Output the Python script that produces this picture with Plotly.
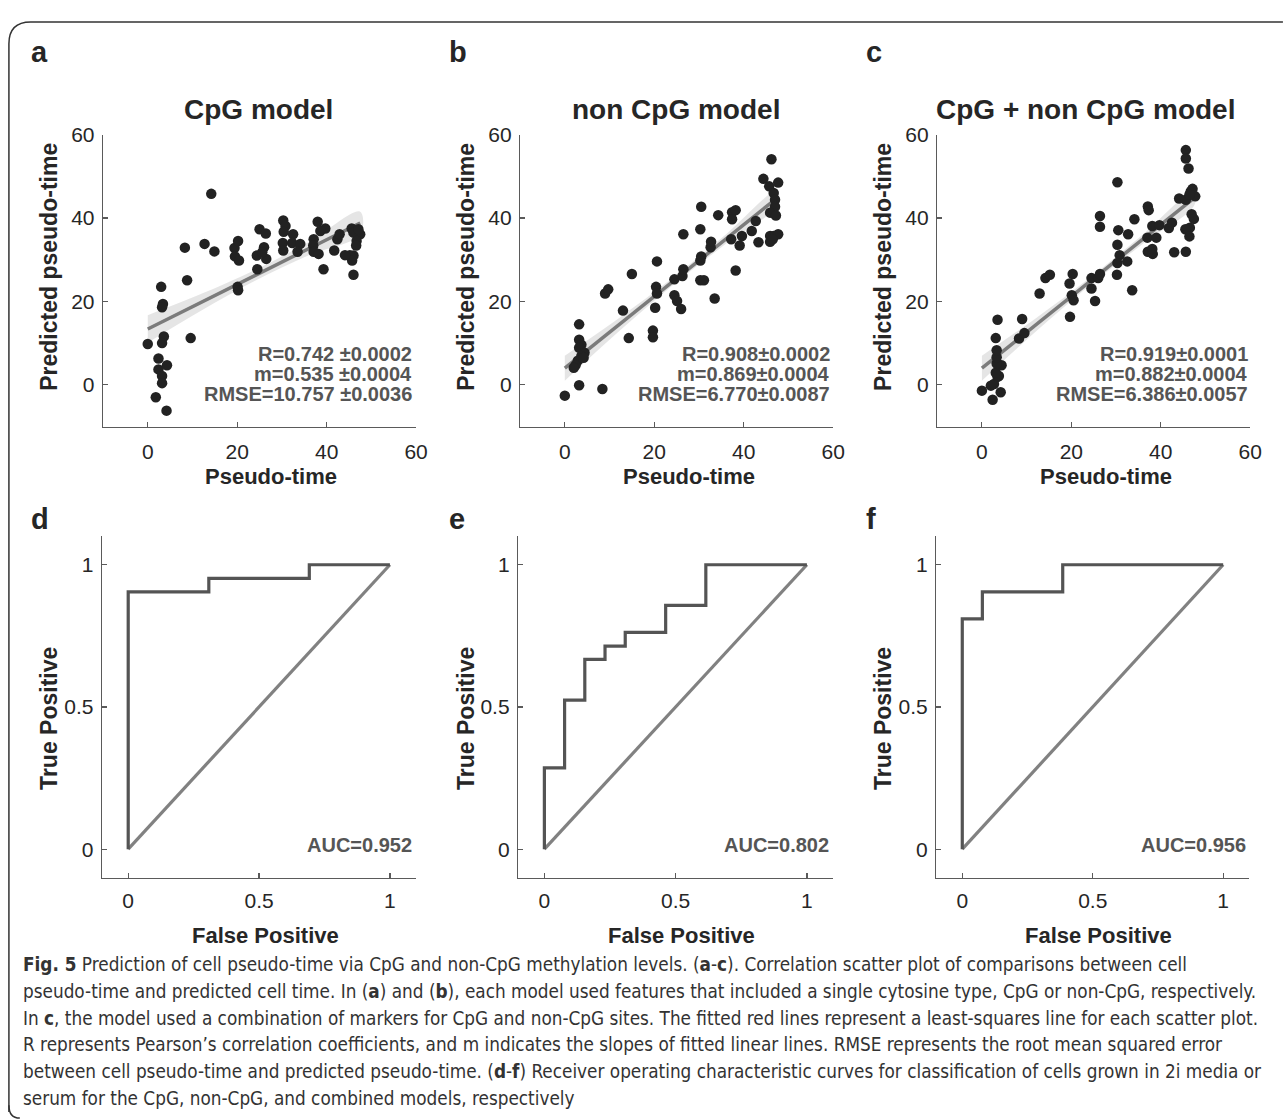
import plotly.graph_objects as go

W, H = 1287, 1119

# ---------------- data ----------------
a_x = [0, 14.2, 8.3, 8.8, 9.6, 12.7, 14.9, 3.0, 3.4, 3.2, 3.6, 3.2, 2.4, 4.3, 2.4, 3.2, 3.2, 1.8, 4.2,
       20.1, 20.2, 19.4, 20.2, 19.5, 20.4, 24.5, 24.4, 25.0, 26.4, 26.0, 26.5, 25.6, 30.3, 30.8, 30.4,
       30.2, 30.3, 32.5, 32.3, 34.1, 33.5, 38.0, 39.7, 38.6, 37.1, 37.0, 37.1, 38.2, 39.3, 41.7, 42.4,
       42.9, 45.6, 46.0, 47.5, 46.7, 46.6, 46.0, 45.2, 45.7, 46.0, 44.1, 47.1]
a_y = [9.8, 45.8, 32.9, 25.1, 11.2, 33.8, 32.0, 23.5, 19.4, 18.6, 11.6, 10.0, 6.3, 4.7, 3.7, 2.1, 0.4, -3.0, -6.2,
       23.5, 22.7, 32.8, 34.5, 30.8, 29.8, 27.7, 31.0, 37.3, 36.3, 33.0, 30.2, 31.8, 39.4, 38.1, 36.7,
       34.0, 32.2, 36.1, 34.0, 33.8, 31.9, 39.1, 37.5, 36.9, 34.9, 33.4, 31.9, 31.4, 27.7, 32.2, 34.9,
       36.1, 37.5, 36.5, 36.1, 34.5, 33.4, 31.0, 31.1, 29.8, 26.4, 31.1, 37.3]

b_x = [0, 3.2, 8.4, 3.2, 3.2, 3.7, 3.2, 4.4, 3.7, 2.9, 2.4, 2.0, 4.2, 9.0, 9.7, 13.0, 14.3, 15.0,
       19.7, 19.7, 20.2, 20.4, 20.6, 20.6, 24.5, 25.1, 26.0, 24.5, 26.3, 26.5, 26.5, 30.3, 31.1, 30.3,
       30.5, 30.3, 30.5, 33.5, 32.6, 32.7, 34.3, 37.4, 38.2, 37.4, 37.2, 39.1, 38.2, 39.6, 41.8, 42.7,
       43.3, 44.4, 46.2, 45.7, 47.7, 46.7, 47.0, 47.0, 45.9, 47.2, 45.9, 46.7, 47.7, 45.9, 46.5]
b_y = [-2.6, -0.1, -1.0, 14.5, 10.8, 9.6, 8.9, 7.7, 6.9, 5.8, 4.7, 4.1, 6.5, 21.9, 22.9, 17.8, 11.2, 26.6,
       13.0, 11.4, 18.5, 23.5, 21.9, 29.6, 21.5, 20.1, 18.2, 25.3, 26.1, 27.7, 36.1, 25.1, 25.1, 29.8,
       30.8, 37.3, 42.7, 20.7, 33.0, 34.3, 40.7, 41.4, 41.9, 39.7, 34.9, 33.4, 27.4, 35.7, 36.9, 39.3,
       34.2, 49.4, 54.1, 47.6, 48.5, 46.0, 44.4, 42.7, 41.3, 40.6, 35.7, 35.7, 36.1, 34.3, 34.9]

c_x = [0, 2.4, 4.2, 2.0, 2.7, 3.5, 3.8, 3.1, 4.4, 3.3, 3.3, 3.3, 3.1, 3.5, 8.3, 9.5, 9.0, 12.9, 14.2,
       15.2, 19.6, 20.3, 20.1, 20.5, 19.7, 24.5, 24.5, 25.3, 26.0, 26.4, 26.4, 26.4, 30.3, 30.5, 30.3,
       30.8, 30.3, 30.2, 32.7, 32.5, 33.6, 34.1, 37.1, 37.3, 37.0, 38.1, 39.0, 39.7, 37.1, 38.2, 38.1,
       41.8, 42.5, 43.0, 44.1, 45.6, 45.6, 45.6, 46.2, 46.7, 47.1, 47.7, 46.4, 46.9, 47.4, 46.5, 45.5,
       46.4, 45.6]
c_y = [-1.4, -3.6, -1.8, -0.2, 0.2, 1.9, 2.1, 2.9, 4.7, 5.1, 6.6, 8.3, 11.2, 15.6, 11.1, 12.4, 15.8, 21.9, 25.6,
       26.4, 24.3, 26.6, 21.5, 20.3, 16.3, 23.1, 25.6, 20.1, 25.6, 26.6, 40.5, 37.9, 48.6, 37.1, 33.6,
       31.1, 29.2, 26.4, 36.1, 29.6, 22.7, 39.7, 42.8, 41.9, 35.3, 38.1, 35.3, 38.3, 31.9, 31.4, 32.6,
       37.6, 38.9, 31.8, 44.7, 44.4, 56.3, 54.3, 51.9, 46.4, 47.0, 45.2, 45.6, 40.9, 39.8, 37.7, 37.3,
       35.6, 31.9]

# fitted lines (intercept, slope) and confidence band half-widths
fit_intercepts = [13.4, 4.0, 4.0]
fit_slopes = [0.535, 0.86, 0.86]
fit_x_range = [0, 47.5]
band_x = [0, 12, 24, 36, 47.5]
band_half = [[3.3, 2.0, 1.3, 1.6, 2.7],
             [3.0, 1.6, 0.9, 1.1, 1.8],
             [3.0, 1.6, 0.9, 1.1, 1.8]]

stats_text = [["R=0.742 ±0.0002", "m=0.535 ±0.0004", "RMSE=10.757 ±0.0036"],
              ["R=0.908±0.0002", "m=0.869±0.0004", "RMSE=6.770±0.0087"],
              ["R=0.919±0.0001", "m=0.882±0.0004", "RMSE=6.386±0.0057"]]
scatter_titles = ["CpG model", "non CpG model", "CpG + non CpG model"]

# ROC curves
roc_d_fpr = [0, 0, 0.308, 0.308, 0.692, 0.692, 1]
roc_d_tpr = [0, 0.905, 0.905, 0.952, 0.952, 1, 1]
roc_e_fpr = [0, 0, 0.077, 0.077, 0.154, 0.154, 0.231, 0.231, 0.308, 0.308, 0.462, 0.462, 0.615, 0.615, 1]
roc_e_tpr = [0, 0.286, 0.286, 0.524, 0.524, 0.667, 0.667, 0.714, 0.714, 0.762, 0.762, 0.857, 0.857, 1, 1]
roc_f_fpr = [0, 0, 0.077, 0.077, 0.385, 0.385, 1]
roc_f_tpr = [0, 0.810, 0.810, 0.905, 0.905, 1, 1]
auc_text = ["AUC=0.952", "AUC=0.802", "AUC=0.956"]

scatter_ticks = [0, 20, 40, 60]
roc_ticks = [0, 0.5, 1]
roc_tick_labels = ["0", "0.5", "1"]

caption_lines = [
    "<b>Fig. 5</b> Prediction of cell pseudo-time via CpG and non-CpG methylation levels. (<b>a</b>-<b>c</b>). Correlation scatter plot of comparisons between cell",
    "pseudo-time and predicted cell time. In (<b>a</b>) and (<b>b</b>), each model used features that included a single cytosine type, CpG or non-CpG, respectively.",
    "In <b>c</b>, the model used a combination of markers for CpG and non-CpG sites. The fitted red lines represent a least-squares line for each scatter plot.",
    "R represents Pearson’s correlation coefficients, and m indicates the slopes of fitted linear lines. RMSE represents the root mean squared error",
    "between cell pseudo-time and predicted pseudo-time. (<b>d</b>-<b>f</b>) Receiver operating characteristic curves for classification of cells grown in 2i media or",
    "serum for the CpG, non-CpG, and combined models, respectively",
]

# ---------------- layout helpers ----------------
def px(x):
    return x / W

def py(y):
    return 1 - y / H

FONT = "Liberation Sans, Arial, Helvetica, sans-serif"
AXC = "#5a5a5a"
TXT = "#262626"

scatter_dom_x = [(104, 420), (525, 841), (946, 1262)]
scatter_dom_y = (124, 419)
roc_dom_x = [(103, 420), (523, 841), (945, 1261)]
roc_dom_y = (530, 875)

fig = go.Figure()
layout = dict(width=W, height=H, margin=dict(l=0, r=0, t=0, b=0),
              paper_bgcolor="white", plot_bgcolor="white", showlegend=False,
              font=dict(family=FONT, color=TXT))

def axis_common():
    return dict(showline=True, linecolor=AXC, linewidth=1.3, ticks="inside", ticklen=5,
                tickcolor=AXC, tickwidth=1.2, showgrid=False, zeroline=False,
                tickfont=dict(family=FONT, size=21, color=TXT))

scat = [(a_x, a_y), (b_x, b_y), (c_x, c_y)]
rocs = [(roc_d_fpr, roc_d_tpr), (roc_e_fpr, roc_e_tpr), (roc_f_fpr, roc_f_tpr)]

for i in range(3):
    n = i + 1
    xa, ya = f"x{n if n > 1 else ''}", f"y{n if n > 1 else ''}"
    line_at = [fit_intercepts[i] + fit_slopes[i] * bx for bx in band_x]
    upper = [l + h for l, h in zip(line_at, band_half[i])]
    lower = [l - h for l, h in zip(line_at, band_half[i])]
    fig.add_trace(go.Scatter(x=band_x + band_x[::-1], y=upper + lower[::-1], fill="toself",
                             fillcolor="rgba(215,215,215,0.65)", line=dict(width=0),
                             mode="lines", xaxis=xa, yaxis=ya, hoverinfo="skip", line_shape="spline"))
    fx = fit_x_range
    fy = [fit_intercepts[i] + fit_slopes[i] * v for v in fx]
    fig.add_trace(go.Scatter(x=fx, y=fy, mode="lines", line=dict(color="#7b7b7b", width=3.5),
                             xaxis=xa, yaxis=ya))
    fig.add_trace(go.Scatter(x=scat[i][0], y=scat[i][1], mode="markers",
                             marker=dict(color="#222222", size=10.5, line=dict(width=0)),
                             xaxis=xa, yaxis=ya))
    ax = axis_common()
    ax.update(domain=[px(scatter_dom_x[i][0]), px(scatter_dom_x[i][1])], range=[-10, 60],
              tickvals=scatter_ticks, anchor=ya, ticklabelstandoff=6)
    ay = axis_common()
    ay.update(domain=[py(scatter_dom_y[1]), py(scatter_dom_y[0])], range=[-10, 60],
              tickvals=scatter_ticks, anchor=xa, ticklabelstandoff=3)
    layout[f"xaxis{n if n > 1 else ''}"] = ax
    layout[f"yaxis{n if n > 1 else ''}"] = ay

    m = i + 4
    xr, yr = f"x{m}", f"y{m}"
    fig.add_trace(go.Scatter(x=[0, 1], y=[0, 1], mode="lines", line=dict(color="#818181", width=3.2),
                             xaxis=xr, yaxis=yr))
    fig.add_trace(go.Scatter(x=rocs[i][0], y=rocs[i][1], mode="lines",
                             line=dict(color="#545454", width=3.2), xaxis=xr, yaxis=yr))
    ax = axis_common()
    ax.update(domain=[px(roc_dom_x[i][0]), px(roc_dom_x[i][1])], range=[-0.1, 1.1],
              tickvals=roc_ticks, ticktext=roc_tick_labels, anchor=yr, ticklabelstandoff=4)
    ay = axis_common()
    ay.update(domain=[py(roc_dom_y[1]), py(roc_dom_y[0])], range=[-0.1, 1.1],
              tickvals=roc_ticks, ticktext=roc_tick_labels, anchor=xr, ticklabelstandoff=3)
    layout[f"xaxis{m}"] = ax
    layout[f"yaxis{m}"] = ay

annotations = []

def ann(text, x, y, size, bold=True, xanchor="center", yanchor="middle", angle=0, color=TXT, family=FONT):
    annotations.append(dict(text=(f"<b>{text}</b>" if bold else text), x=px(x), y=py(y),
                            xref="paper", yref="paper", xanchor=xanchor, yanchor=yanchor,
                            showarrow=False, textangle=angle,
                            font=dict(family=family, size=size, color=color)))

panel_left = [29, 451, 872]
for i, lab in enumerate(["a", "b", "c"]):
    ann(lab, panel_left[i], 40, 29, xanchor="left")
for i, lab in enumerate(["d", "e", "f"]):
    ann(lab, panel_left[i], 512, 29, xanchor="left")

title_cx = [261, 682, 1096]
for i in range(3):
    ann(scatter_titles[i], title_cx[i], 99, 28)

ylab_x = [50, 471, 892]
for i in range(3):
    ann("Predicted pseudo-time", ylab_x[i], 258, 23, angle=-90)
    ann("True Positive", ylab_x[i], 714, 23, angle=-90)

for i in range(3):
    cx = (scatter_dom_x[i][0] + scatter_dom_x[i][1]) / 2 + 12
    ann("Pseudo-time", cx, 470, 22)
    cx2 = (roc_dom_x[i][0] + roc_dom_x[i][1]) / 2 + 6
    ann("False Positive", cx2, 934, 22)

stat_right = [418, 840, 1262]
stat_y = [346, 366, 386]
for i in range(3):
    for j in range(3):
        ann(stats_text[i][j], stat_right[i], stat_y[j], 20, xanchor="right", color="#555555")
auc_right = [418, 839, 1260]
for i in range(3):
    ann(auc_text[i], auc_right[i], 842, 20, xanchor="right", color="#555555")

cap_y = [963, 990, 1017, 1044, 1071, 1098]
for k, line in enumerate(caption_lines):
    ann(line, 21, cap_y[k], 18.8, bold=False, xanchor="left", color="#333333",
        family="DejaVu Sans Condensed, sans-serif")

layout["annotations"] = annotations

path = (f"M {px(9)},{py(1112)} L {px(9)},{py(32)} Q {px(9)},{py(10)} {px(31)},{py(10)} "
        f"L {px(1295)},{py(10)}")
path2 = f"M {px(9)},{py(1105)} Q {px(9)},{py(1118)} {px(20)},{py(1118)}"
layout["shapes"] = [dict(type="path", path=path, xref="paper", yref="paper",
                         line=dict(color="#333333", width=1.5)),
                    dict(type="path", path=path2, xref="paper", yref="paper",
                         line=dict(color="#333333", width=1.5))]

fig.update_layout(**layout)
fig.write_html(
    "out.html",
    config={"displayModeBar": False, "staticPlot": True},
    post_script=(
        "document.body.style.margin='0';document.body.style.padding='0';"
        "document.documentElement.style.overflow='hidden';document.body.style.overflow='hidden';"
        "var gd=document.getElementById('{plot_id}');"
        "gd.style.position='absolute';gd.style.left='0px';gd.style.top='0px';"
    ),
)
